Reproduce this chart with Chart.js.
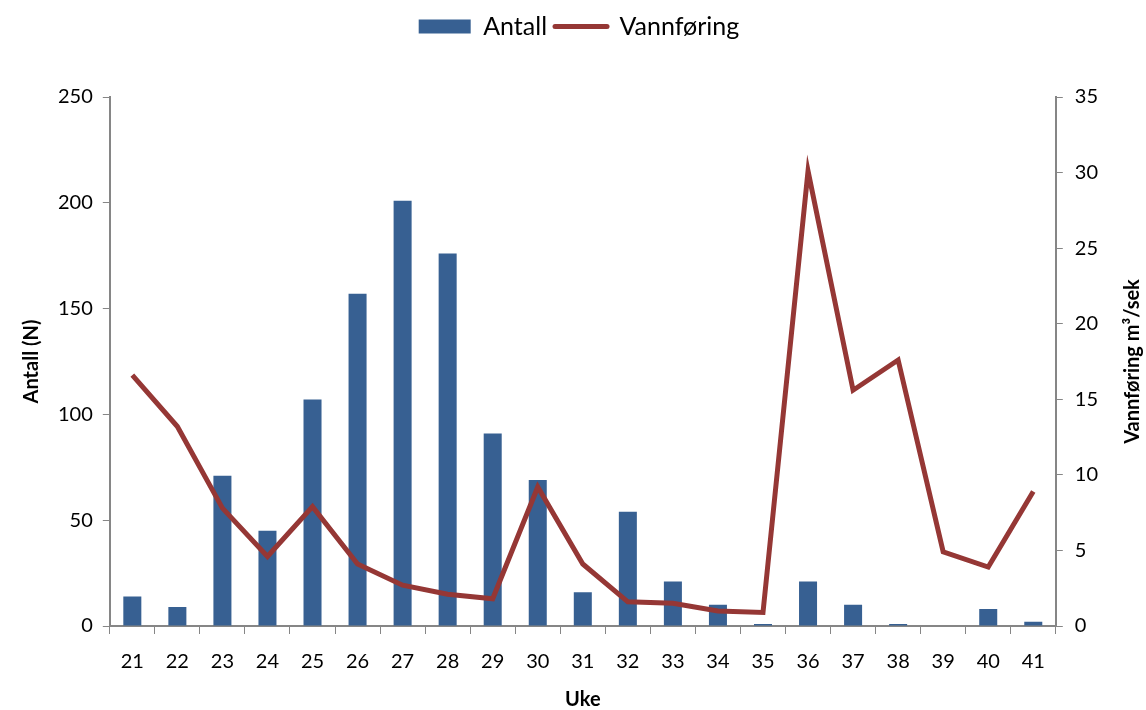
<!DOCTYPE html>
<html lang="no">
<head>
  <meta charset="UTF-8">
  <title>Antall og vannføring per uke</title>
  <script src="https://cdn.jsdelivr.net/npm/chart.js"></script>
  <style>
    html, body { margin: 0; padding: 0; background: #fff; }
    #wrap { width: 1146px; height: 710px; }
  </style>
</head>
<body>
  <div id="wrap"><canvas id="chart"></canvas></div>

  <script>
    // uker (kategorier)
    const uker = ['21','22','23','24','25','26','27','28','29','30','31','32','33','34','35','36','37','38','39','40','41'];
    // antall fisk per uke
    const antall = [14, 9, 71, 45, 107, 157, 201, 176, 91, 69, 16, 54, 21, 10, 1, 21, 10, 1, 0, 8, 2];
    // vannføring m3/sek
    const vannforing = [16.6, 13.2, 7.8, 4.6, 7.9, 4.1, 2.7, 2.1, 1.8, 9.2, 4.1, 1.6, 1.5, 1.0, 0.9, 30.1, 15.6, 17.6, 4.9, 3.9, 8.9];

    const grey = '#868686';
    const font = 'Lato, "Open Sans", sans-serif';
    const rightTitle = 'Vannføring m³/sek';

    // ekstra luft under legenden
    const legendMargin = {
      id: 'legendMargin',
      beforeInit(chart) {
        const fit = chart.legend.fit;
        chart.legend.fit = function () {
          fit.bind(chart.legend)();
          this.height += 48;
        };
      }
    };

    // høyre aksetittel skal leses nedenfra og opp, som i Excel
    const rightAxisTitle = {
      id: 'rightAxisTitle',
      afterDraw(chart) {
        const ctx = chart.ctx;
        const area = chart.chartArea;
        ctx.save();
        ctx.translate(chart.width - 13, (area.top + area.bottom) / 2);
        ctx.rotate(-Math.PI / 2);
        ctx.font = 'bold 20px ' + font;
        ctx.fillStyle = '#000';
        ctx.textAlign = 'center';
        ctx.textBaseline = 'middle';
        ctx.fillText(rightTitle, 0, 0);
        ctx.restore();
      }
    };

    new Chart(document.getElementById('chart'), {
      data: {
        labels: uker,
        datasets: [
          {
            type: 'bar',
            label: 'Antall',
            data: antall,
            backgroundColor: '#376092',
            borderWidth: 0,
            yAxisID: 'y',
            order: 1,
            categoryPercentage: 1,
            barPercentage: 0.4
          },
          {
            type: 'line',
            label: 'Vannføring',
            data: vannforing,
            borderColor: '#953735',
            backgroundColor: '#953735',
            borderWidth: 5,
            pointRadius: 0,
            tension: 0,
            yAxisID: 'y1',
            order: 0
          }
        ]
      },
      options: {
        responsive: true,
        maintainAspectRatio: false,
        animation: false,
        layout: { padding: { top: 6, left: 16, right: 4, bottom: 0 } },
        plugins: {
          tooltip: { enabled: false },
          legend: {
            position: 'top',
            labels: {
              usePointStyle: true,
              pointStyleWidth: 52,
              boxHeight: 14,
              color: '#000',
              padding: 8,
              font: { family: font, size: 25 },
              sort: (a, b) => a.datasetIndex - b.datasetIndex,
              generateLabels(chart) {
                const items = Chart.defaults.plugins.legend.labels.generateLabels(chart);
                items.forEach(it => {
                  it.pointStyle = it.datasetIndex === 0 ? 'rect' : 'line';
                  if (it.datasetIndex === 0) it.lineWidth = 0;
                  it.lineCap = 'round';
                });
                return items;
              }
            }
          }
        },
        scales: {
          x: {
            grid: { offset: true, drawOnChartArea: false, color: grey, tickLength: 8 },
            border: { color: grey, width: 2 },
            ticks: { color: '#000', font: { family: font, size: 20 }, padding: 16 },
            title: { display: true, text: 'Uke', color: '#000', font: { family: font, size: 20, weight: 'bold', lineHeight: 1 }, padding: { top: 0, bottom: 0 } }
          },
          y: {
            position: 'left',
            min: 0, max: 250,
            ticks: { stepSize: 50, color: '#000', font: { family: font, size: 20 }, padding: 10 },
            grid: { drawOnChartArea: false, color: grey, tickLength: 7 },
            border: { color: grey, width: 2 },
            title: { display: true, text: 'Antall (N)', color: '#000', font: { family: font, size: 20, weight: 'bold' } }
          },
          y1: {
            position: 'right',
            min: 0, max: 35,
            ticks: { stepSize: 5, color: '#000', font: { family: font, size: 20 }, padding: 12 },
            grid: { drawOnChartArea: false, color: grey, tickLength: 7 },
            border: { color: grey, width: 2 },
            title: { display: true, text: rightTitle, color: 'rgba(0,0,0,0)', font: { family: font, size: 20, weight: 'bold' } }
          }
        }
      },
      plugins: [legendMargin, rightAxisTitle]
    });
  </script>
</body>
</html>
